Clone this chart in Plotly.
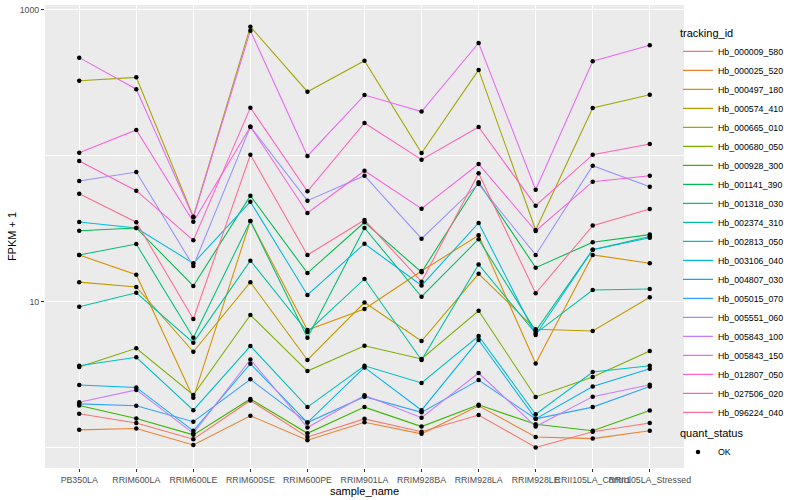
import plotly.graph_objects as go

# ---- data (FPKM + 1) ----
sample_names = ["PB350LA", "RRIM600LA", "RRIM600LE", "RRIM600SE", "RRIM600PE",
                "RRIM901LA", "RRIM928BA", "RRIM928LA", "RRIM928LE",
                "RRII105LA_Control", "RRII105LA_Stressed"]

hb_000009_580 = [1.70, 1.47, 1.14, 2.10, 1.18, 1.57, 1.28, 1.67, 1.00, 1.28, 1.47]
hb_000025_520 = [1.32, 1.35, 1.04, 1.65, 1.12, 1.49, 1.24, 1.93, 1.18, 1.15, 1.30]
hb_000497_180 = [20.9, 15.3, 2.19, 35.7, 6.39, 8.90, 16.2, 28.5, 3.76, 20.9, 18.3]
hb_000574_410 = [13.6, 12.6, 4.53, 13.6, 3.98, 9.86, 5.37, 15.5, 6.46, 6.28, 10.7]
hb_000665_010 = [327, 345, 38.2, 768, 275, 449, 104.5, 388, 31.0, 213, 262]
hb_000680_050 = [3.56, 4.78, 2.29, 8.09, 3.34, 4.98, 4.04, 8.66, 2.22, 3.04, 4.58]
hb_000928_300 = [1.94, 1.58, 1.22, 2.15, 1.25, 1.89, 1.39, 1.96, 1.44, 1.30, 1.79]
hb_001141_390 = [30.6, 32.0, 12.8, 53.2, 15.7, 35.0, 15.9, 65.8, 17.1, 25.5, 28.8]
hb_001318_030 = [20.9, 24.8, 5.65, 35.7, 5.65, 32.0, 10.8, 26.8, 6.28, 22.7, 28.0]
hb_002374_310 = [9.23, 11.5, 5.23, 19.1, 6.19, 14.3, 3.98, 18.0, 6.06, 12.0, 12.2]
hb_002813_050 = [3.63, 4.15, 1.80, 4.96, 1.89, 3.63, 2.77, 5.81, 1.69, 3.29, 3.63]
hb_003106_040 = [35.2, 32.0, 18.3, 48.4, 11.1, 24.95, 12.9, 34.6, 5.90, 22.7, 27.4]
hb_004807_030 = [2.68, 2.58, 1.30, 3.75, 1.48, 3.54, 1.80, 5.45, 1.57, 2.62, 3.47]
hb_005015_070 = [1.99, 1.93, 1.50, 2.93, 1.48, 2.23, 1.74, 2.90, 1.57, 1.89, 2.62]
hb_005551_060 = [67.2, 77.4, 17.55, 158.4, 49.2, 73.0, 27.0, 64.1, 20.9, 85.5, 61.4]
hb_005843_100 = [2.04, 2.48, 1.25, 4.01, 1.37, 2.28, 1.60, 3.24, 1.39, 2.23, 2.69]
hb_005843_150 = [471, 286, 37.9, 721, 99.7, 261, 201, 594, 58.5, 445, 573]
hb_012807_050 = [105.0, 150.3, 35.3, 158.4, 40.5, 79.0, 43.4, 87.8, 30.5, 66.4, 73.0]
hb_027506_020 = [92.1, 57.6, 26.3, 213.8, 57.1, 167.9, 94.0, 157.6, 45.5, 101.7, 120.5]
hb_096224_040 = [55.0, 35.0, 7.60, 101.7, 20.9, 36.3, 13.7, 75.9, 11.4, 33.2, 43.2]

tracking_ids = ["Hb_000009_580", "Hb_000025_520", "Hb_000497_180", "Hb_000574_410",
                "Hb_000665_010", "Hb_000680_050", "Hb_000928_300", "Hb_001141_390",
                "Hb_001318_030", "Hb_002374_310", "Hb_002813_050", "Hb_003106_040",
                "Hb_004807_030", "Hb_005015_070", "Hb_005551_060", "Hb_005843_100",
                "Hb_005843_150", "Hb_012807_050", "Hb_027506_020", "Hb_096224_040"]

series_values = [hb_000009_580, hb_000025_520, hb_000497_180, hb_000574_410,
                 hb_000665_010, hb_000680_050, hb_000928_300, hb_001141_390,
                 hb_001318_030, hb_002374_310, hb_002813_050, hb_003106_040,
                 hb_004807_030, hb_005015_070, hb_005551_060, hb_005843_100,
                 hb_005843_150, hb_012807_050, hb_027506_020, hb_096224_040]

quant_status = "OK"

# ggplot2 default hue palette for 20 levels
colors = ["#F8766D", "#EA8331", "#D89000", "#C09B00", "#A3A500", "#7CAE00",
          "#39B600", "#00BB4E", "#00BF7D", "#00C1A3", "#00BFC4", "#00BAE0",
          "#00B0F6", "#35A2FF", "#9590FF", "#C77CFF", "#E76BF3", "#FA62DB",
          "#FF62BC", "#FF6C91"]

FONT = "Liberation Sans, Arial, Helvetica, sans-serif"

fig = go.Figure()
for tid, vals, col in zip(tracking_ids, series_values, colors):
    fig.add_trace(go.Scatter(
        x=sample_names, y=vals, mode="lines", name=tid,
        line=dict(color=col, width=1.07), legend="legend",
    ))

all_x = [s for vals in series_values for s in sample_names]
all_y = [v for vals in series_values for v in vals]
fig.add_trace(go.Scatter(
    x=all_x, y=all_y, mode="markers", name=quant_status,
    marker=dict(color="black", size=4.5, symbol="circle"),
    legend="legend2",
))

axis_common = dict(
    showline=False, zeroline=False,
    ticks="outside", ticklen=3, tickwidth=1.07, tickcolor="#333333",
    tickfont=dict(family=FONT, size=8.8, color="#4D4D4D"),
    gridcolor="white", gridwidth=1.07, automargin=False,
)

LEG_X = (678 - 45) / 639

fig.update_layout(
    width=800, height=500,
    margin=dict(l=45, r=116, t=5, b=32, autoexpand=False),
    paper_bgcolor="white", plot_bgcolor="#EBEBEB",
    font=dict(family=FONT, color="black"),
    showlegend=True,
    xaxis=dict(
        type="category", range=[-0.6, 10.6], tickangle=0,
        title=dict(text="sample_name", font=dict(family=FONT, size=11, color="black"), standoff=0),
        **axis_common,
    ),
    yaxis=dict(
        type="log", range=[-0.141, 3.034],
        tickmode="array", tickvals=[10, 1000], ticktext=["10", "1000"],
        minor=dict(tickmode="array", tickvals=[1, 100], showgrid=True,
                   gridcolor="white", gridwidth=0.55, ticks=""),
        title=dict(text="FPKM + 1", font=dict(family=FONT, size=11, color="black"), standoff=0),
        **axis_common,
    ),
    legend=dict(
        title=dict(text="tracking_id", font=dict(family=FONT, size=11, color="black")),
        font=dict(family=FONT, size=8.8, color="black"),
        xref="paper", yref="paper", x=LEG_X, y=0.962,
        xanchor="left", yanchor="top", bgcolor="rgba(0,0,0,0)",
        tracegroupgap=0,
    ),
    legend2=dict(
        title=dict(text="quant_status", font=dict(family=FONT, size=11, color="black")),
        font=dict(family=FONT, size=8.8, color="black"),
        xref="paper", yref="paper", x=LEG_X, y=0.097,
        xanchor="left", yanchor="top", bgcolor="rgba(0,0,0,0)",
    ),
)

fig.write_html("out.html", config={"displayModeBar": False},
               post_script="document.body.style.margin='0px';")
